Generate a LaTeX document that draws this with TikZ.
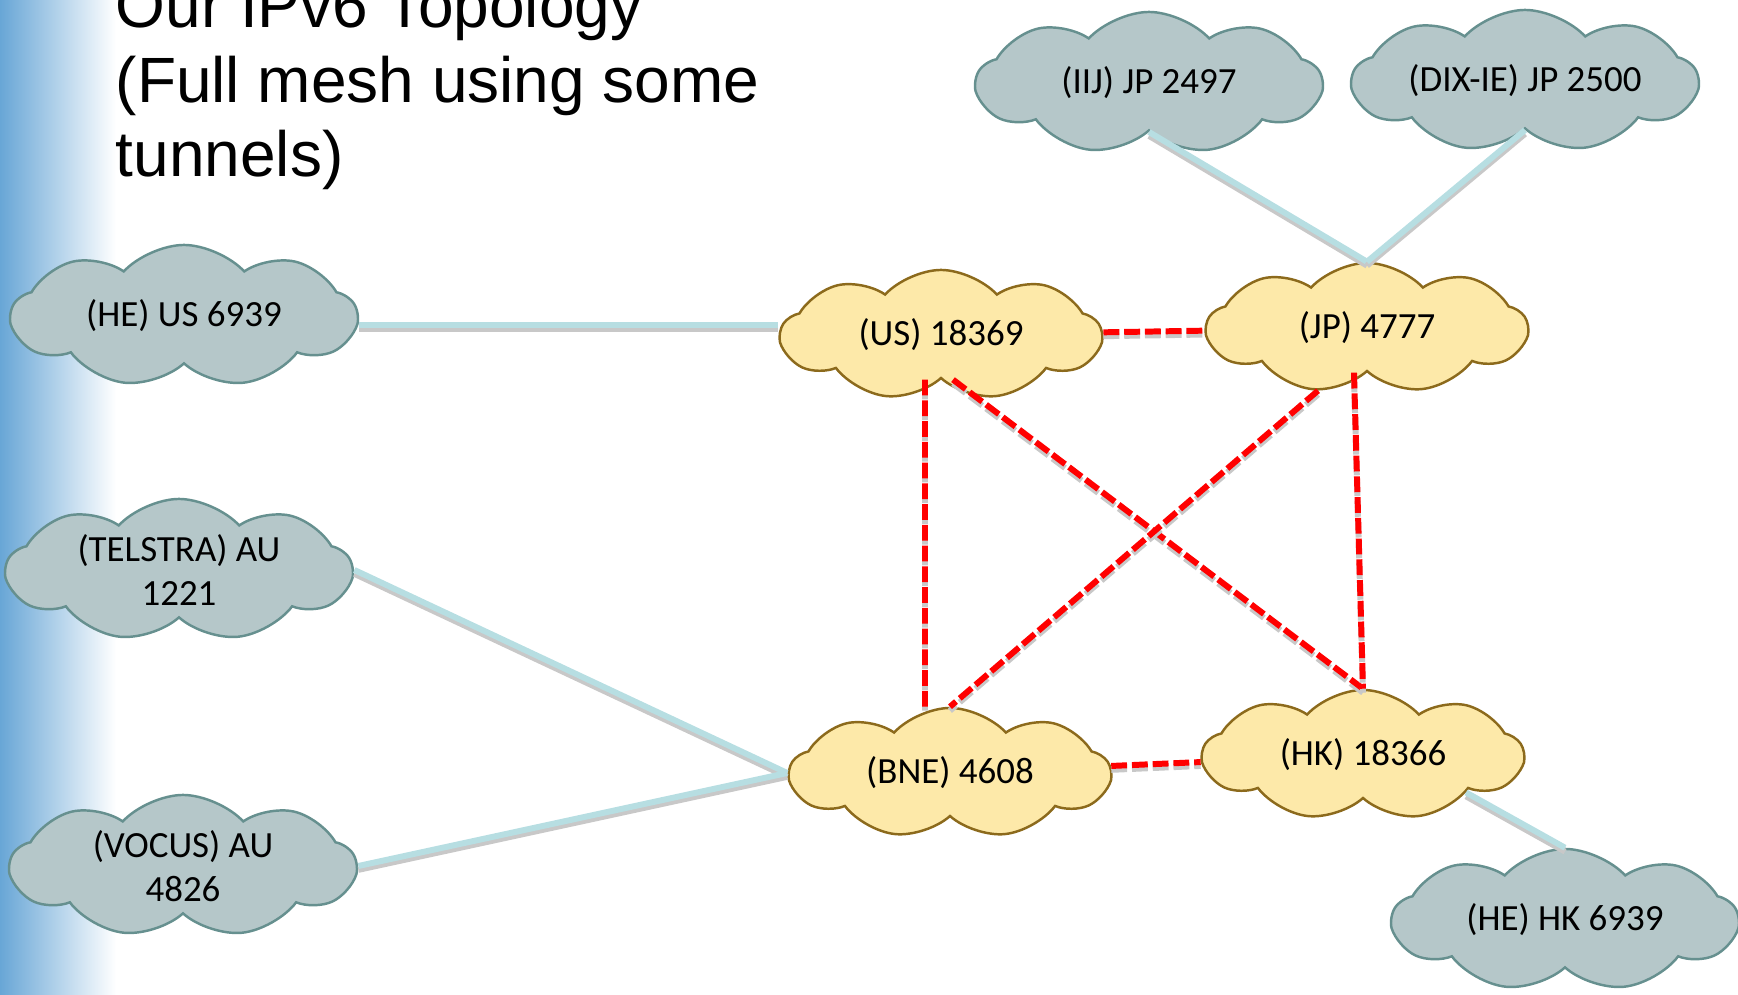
\documentclass[tikz,border=0pt]{standalone}
\usepackage{fontspec}
\setmainfont{Carlito}
\newfontfamily\titlefont{Liberation Sans}
\usetikzlibrary{shapes.symbols}
\definecolor{barblue}{HTML}{68A6D6}
\definecolor{asgold}{HTML}{FDE9A9}
\definecolor{asgoldline}{HTML}{8C6A1C}
\definecolor{peergray}{HTML}{B5C7C9}
\definecolor{peerline}{HTML}{66908F}
\definecolor{linkblue}{HTML}{B7DEE2}
\definecolor{shadowgray}{HTML}{C8C8C8}
\begin{document}
\begin{tikzpicture}[
  x=0.01cm, y=-0.01cm,
  asbox/.style={cloud, cloud puffs=9, cloud puff arc=95, cloud ignores aspect, draw=asgoldline, fill=asgold, line width=0.7pt, minimum width=3.2cm, minimum height=1.3cm, inner sep=0pt, align=center, font=\fontsize{10.5}{12.6}\selectfont},
  peerbox/.style={asbox, draw=peerline, fill=peergray, minimum width=3.45cm, minimum height=1.42cm},
  peering/.style={draw=linkblue, line width=1.7pt, preaction={draw=shadowgray, line width=1.7pt, transform canvas={yshift=-1.1pt}}},
  tunnel/.style={draw=red, line width=1.7pt, dash pattern=on 4.5pt off 1.4pt, preaction={draw=shadowgray, line width=1.7pt, dash pattern=on 4.5pt off 1.4pt, transform canvas={yshift=-1.1pt}}}
]
\useasboundingbox (0,0) rectangle (1738,995);
\shade[left color=barblue, right color=white] (0,0) rectangle (116,995);
\node[anchor=base west, align=left, inner sep=0pt, font=\titlefont\fontsize{18.2}{21.3}\selectfont] (title) at (115,177) {Our IPv6 Topology\\(Full mesh using some\\tunnels)};

\node[peerbox] (heus) at (184,316) {(HE) US 6939};
\node[peerbox] (telstra) at (179,570) {(TELSTRA) AU\\1221};
\node[peerbox] (vocus) at (183,866) {(VOCUS) AU\\4826};
\node[peerbox] (iij) at (1149,83) {(IIJ) JP 2497};
\node[peerbox] (dix) at (1525,81) {(DIX-IE) JP 2500};
\node[peerbox] (hehk) at (1565,920) {(HE) HK 6939};
\node[asbox] (us) at (941,335) {(US) 18369};
\node[asbox] (jp) at (1367,328) {(JP) 4777};
\node[asbox] (bne) at (950,773) {(BNE) 4608};
\node[asbox] (hk) at (1363,755) {(HK) 18366};

\draw[peering] ([yshift=-0.09cm]heus.east) -- ([yshift=-0.09cm]heus.east -| us.west);
\draw[peering] (telstra.east) -- (bne.west);
\draw[peering] (vocus.east) -- (bne.west);
\draw[peering] (iij.south) -- (jp.north);
\draw[peering] (dix.south) -- (jp.north);
\draw[peering] (hk.-20) -- (hehk.north);

\draw[tunnel] (us) -- (jp);
\draw[tunnel] (bne) -- (hk);
\draw[tunnel] ([xshift=-0.16cm]us.south) -- ([xshift=-0.25cm]bne.north);
\draw[tunnel] ([xshift=0.12cm]us.south) -- (hk.north);
\draw[tunnel] (jp.232) -- (bne.north);
\draw[tunnel] ([xshift=-0.13cm]jp.south) -- (hk.north);
\end{tikzpicture}
\end{document}
